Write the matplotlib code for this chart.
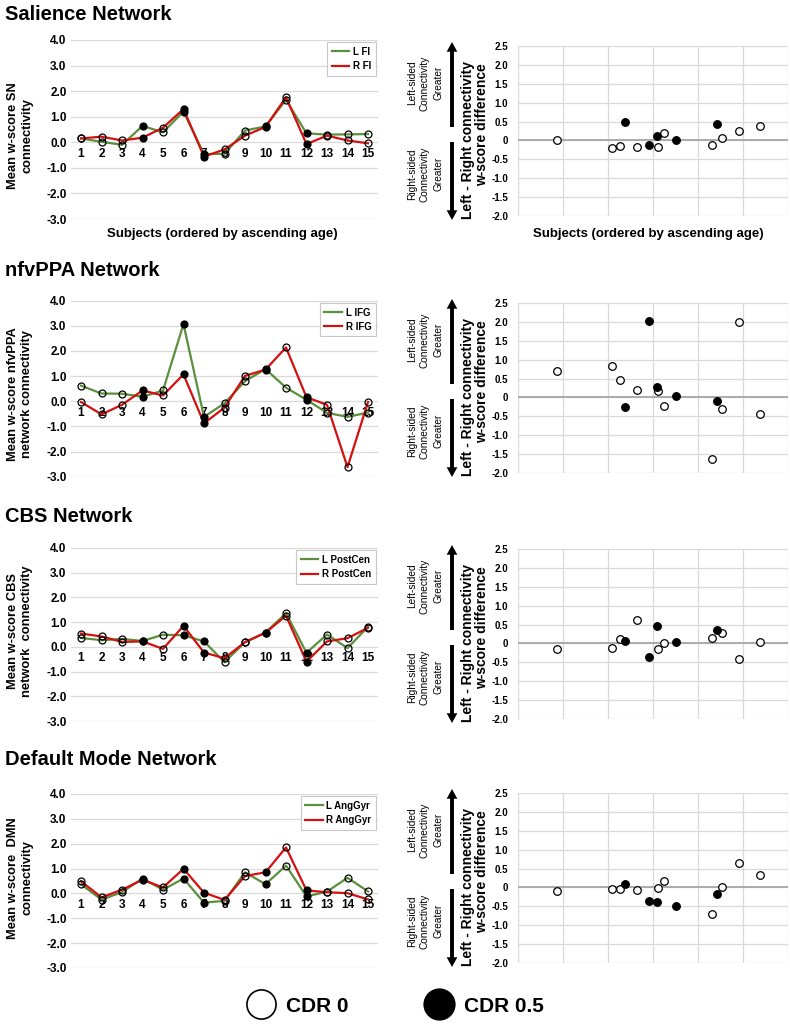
import numpy as np
import matplotlib.pyplot as plt
from matplotlib.lines import Line2D
from matplotlib.patches import FancyArrowPatch, ArrowStyle

plt.rcParams['font.family'] = ['Liberation Sans', 'DejaVu Sans']

# ===== DATA =====
subjects = list(range(1, 16))
cdr = [0, 0, 0, 0.5, 0, 0.5, 0.5, 0, 0, 0.5, 0, 0.5, 0, 0, 0]
ages = [54.3, 60.4, 61.3, 61.9, 63.2, 64.6, 65.4, 65.6, 66.2, 67.5, 71.6, 72.1, 72.7, 74.6, 76.9]

sn_left = [0.15, 0.02, -0.10, 0.64, 0.39, 1.20, -0.46, -0.45, 0.46, 0.62, 1.66, 0.35, 0.30, 0.31, 0.32]
sn_right = [0.15, 0.22, 0.07, 0.18, 0.57, 1.30, -0.56, -0.28, 0.26, 0.60, 1.76, -0.07, 0.26, 0.07, -0.04]
sn_diff = [0.01, -0.20, -0.16, 0.48, -0.18, -0.11, 0.11, -0.18, 0.21, 0.01, -0.11, 0.43, 0.06, 0.25, 0.37]

nfv_left = [0.62, 0.31, 0.30, 0.18, 0.43, 3.07, -0.62, -0.08, 0.80, 1.28, 0.54, 0.06, -0.46, -0.62, -0.45]
nfv_right = [-0.03, -0.52, -0.14, 0.43, 0.23, 1.07, -0.88, -0.25, 1.01, 1.26, 2.14, 0.16, -0.14, -2.62, -0.03]
nfv_diff = [0.69, 0.84, 0.46, -0.24, 0.20, 2.03, 0.27, 0.18, -0.22, 0.03, -1.64, -0.10, -0.31, 2.00, -0.43]

cbs_left = [0.36, 0.27, 0.32, 0.24, 0.49, 0.47, 0.22, -0.62, 0.19, 0.58, 1.36, -0.24, 0.50, -0.05, 0.81]
cbs_right = [0.54, 0.42, 0.20, 0.22, -0.08, 0.85, -0.23, -0.46, 0.19, 0.57, 1.26, -0.60, 0.22, 0.35, 0.77]
cbs_diff = [-0.15, -0.13, 0.13, 0.06, 0.62, -0.36, 0.47, -0.15, 0.02, 0.04, 0.15, 0.36, 0.28, -0.41, 0.04]

dmn_left = [0.37, -0.25, 0.05, 0.60, 0.15, 0.60, -0.37, -0.30, 0.85, 0.37, 1.12, -0.12, 0.07, 0.63, 0.08]
dmn_right = [0.49, -0.16, 0.15, 0.55, 0.24, 0.99, 0.03, -0.26, 0.70, 0.85, 1.85, 0.12, 0.05, 0.01, -0.24]
dmn_diff = [-0.09, -0.04, -0.04, 0.09, -0.06, -0.36, -0.39, -0.01, 0.17, -0.49, -0.71, -0.18, 0.01, 0.66, 0.32]

left_yticks = [-3, -2, -1, 0, 1, 2, 3, 4]
diff_yticks = [-2.0, -1.5, -1.0, -0.5, 0, 0.5, 1.0, 1.5, 2.0, 2.5]
diff_ylabels = ['-2.0', '-1.5', '-1.0', '-0.5', '0', '0.5', '1.0', '1.5', '2.0', '2.5']

panels = [
    dict(title='Salience Network', ylabel='Mean w-score SN\nconnectivity',
         names=('L FI', 'R FI'), L=sn_left, R=sn_right, D=sn_diff,
         title_y=19.5, left=(40, 219), right=(46, 216), ylab_y=136, xlabel=True),
    dict(title='nfvPPA Network', ylabel='Mean w-score nfvPPA\nnetwork connectivity',
         names=('L IFG', 'R IFG'), L=nfv_left, R=nfv_right, D=nfv_diff,
         title_y=276.5, left=(300.7, 476.7), right=(303, 473), ylab_y=394, xlabel=False),
    dict(title='CBS Network', ylabel='Mean w-score CBS\nnetwork  connectivity',
         names=('L PostCen', 'R PostCen'), L=cbs_left, R=cbs_right, D=cbs_diff,
         title_y=521.5, left=(548, 721), right=(549, 719), ylab_y=631, xlabel=False),
    dict(title='Default Mode Network', ylabel='Mean w-score  DMN\nconnectivity',
         names=('L AngGyr', 'R AngGyr'), L=dmn_left, R=dmn_right, D=dmn_diff,
         title_y=765, left=(794, 968), right=(793, 963), ylab_y=878, xlabel=False),
]

W, H = 790, 1024
GREEN = '#5a8f3c'
RED = '#d40f0f'
GRID = '#d9d9d9'


def fx(x):
    return x / W


def fy(y):
    return 1 - y / H


def box(x0, y0, x1, y1):
    return [x0 / W, 1 - y1 / H, (x1 - x0) / W, (y1 - y0) / H]


fig = plt.figure(figsize=(W / 100, H / 100), dpi=100)

open_mask = np.array(cdr) == 0
fill_mask = ~open_mask
subj = np.array(subjects)
age = np.array(ages)

for p in panels:
    # ----- left: L/R connectivity per subject -----
    top, bot = p['left']
    ax = fig.add_axes(box(70.75, top, 378.25, bot))
    # category axis crosses at 0 (set before styling ticks, it resets them)
    ax.spines['bottom'].set_position(('data', 0))
    for vals, col, name in [(p['L'], GREEN, p['names'][0]), (p['R'], RED, p['names'][1])]:
        v = np.array(vals)
        ax.plot(subj, v, color=col, lw=1.6, label=name, zorder=3)
        ax.plot(subj[open_mask], v[open_mask], 'o', ms=5, mfc='none', mec='black', mew=0.9, zorder=4)
        ax.plot(subj[fill_mask], v[fill_mask], 'o', ms=5, mfc='black', mec='black', mew=0.9, zorder=4)
    ax.set_xlim(0.5, 15.5)
    ax.set_ylim(-3, 4)
    ax.set_yticks(left_yticks)
    ax.set_yticklabels([f'{t:.1f}' for t in left_yticks], fontsize=8.5, fontweight='bold')
    ax.set_xticks(subjects)
    ax.set_xticklabels([str(s) for s in subjects], fontsize=8.5, fontweight='bold')
    for s in ax.spines.values():
        s.set_visible(False)
    ax.tick_params(axis='x', length=0, pad=4)
    ax.tick_params(axis='y', length=0, pad=3)
    ax.grid(axis='y', color=GRID, lw=0.9)
    ax.set_axisbelow(True)
    leg = ax.legend(loc='upper right', fontsize=7, frameon=True, fancybox=False,
                    edgecolor='#c8c8c8', framealpha=1, borderaxespad=0.25,
                    handlelength=1.8, handletextpad=0.4, labelspacing=0.45, borderpad=0.45)
    leg.get_frame().set_linewidth(0.8)
    for t in leg.get_texts():
        t.set_fontweight('bold')

    fig.text(fx(5), fy(p['title_y']), p['title'], fontsize=14.5, fontweight='bold',
             ha='left', va='baseline')
    fig.text(fx(20), fy(p['ylab_y']), p['ylabel'], rotation=90, ha='center', va='center',
             fontsize=9.3, fontweight='bold', multialignment='center', linespacing=1.25)

    # ----- right: L - R difference vs age -----
    rtop, rbot = p['right']
    axr = fig.add_axes(box(518, rtop, 788, rbot))
    axr.scatter(age[open_mask], np.array(p['D'])[open_mask], s=30, facecolor='white',
                edgecolor='black', linewidth=0.9, zorder=4)
    axr.scatter(age[fill_mask], np.array(p['D'])[fill_mask], s=30, facecolor='black',
                edgecolor='black', linewidth=0.9, zorder=4)
    axr.set_xlim(50, 80)
    axr.set_ylim(-2.0, 2.5)
    axr.set_xticks(np.arange(50, 81, 5))
    axr.set_yticks(diff_yticks)
    axr.set_yticklabels(diff_ylabels, fontsize=7, fontweight='bold')
    axr.tick_params(axis='x', labelbottom=False, length=0)
    axr.tick_params(axis='y', length=0, pad=7)
    for s in axr.spines.values():
        s.set_visible(False)
    axr.grid(True, color=GRID, lw=0.9)
    axr.set_axisbelow(True)
    axr.axhline(0, color='#a6a6a6', lw=1.3, zorder=2)

    cy = (rtop + rbot) / 2
    fig.text(fx(468), fy(cy + 9), 'Left - Right connectivity', rotation=90, ha='center',
             va='center', fontsize=10, fontweight='bold')
    fig.text(fx(482), fy(cy - 6), 'w-score difference', rotation=90, ha='center',
             va='center', fontsize=10, fontweight='bold')
    fig.text(fx(425), fy(cy - 48), 'Left-sided\nConnectivity\nGreater', rotation=90,
             ha='center', va='center', fontsize=7.3, multialignment='center', linespacing=1.4)
    fig.text(fx(425), fy(cy + 43), 'Right-sided\nConnectivity\nGreater', rotation=90,
             ha='center', va='center', fontsize=7.3, multialignment='center', linespacing=1.4)

    style = ArrowStyle.Simple(head_length=0.5, head_width=0.55, tail_width=0.2)
    up = FancyArrowPatch((fx(452), fy(cy - 4)), (fx(452), fy(cy - 89)), transform=fig.transFigure,
                         arrowstyle=style, mutation_scale=14, color='black', lw=0,
                         shrinkA=0, shrinkB=0)
    down = FancyArrowPatch((fx(452), fy(cy + 11)), (fx(452), fy(cy + 89)), transform=fig.transFigure,
                           arrowstyle=style, mutation_scale=14, color='black', lw=0,
                           shrinkA=0, shrinkB=0)
    fig.add_artist(up)
    fig.add_artist(down)

    if p['xlabel']:
        fig.text(fx(222), fy(234), 'Subjects (ordered by ascending age)', ha='center',
                 va='center', fontsize=9.5, fontweight='bold')
        fig.text(fx(648), fy(234), 'Subjects (ordered by ascending age)', ha='center',
                 va='center', fontsize=9.5, fontweight='bold')

# ===== CDR LEGEND =====
handles = [
    Line2D([], [], ls='none', marker='o', ms=21, mfc='white', mec='black', mew=1.2),
    Line2D([], [], ls='none', marker='o', ms=22, mfc='black', mec='black', mew=1.2),
]
leg = fig.legend(handles, ['CDR 0', 'CDR 0.5'], loc='center', bbox_to_anchor=(fx(395), fy(1006)),
                 ncol=2, frameon=False, fontsize=15, handlelength=1.5, handletextpad=0.45,
                 columnspacing=3.6, borderpad=0)
for t in leg.get_texts():
    t.set_fontweight('bold')

fig.savefig('out.png', dpi=100)
